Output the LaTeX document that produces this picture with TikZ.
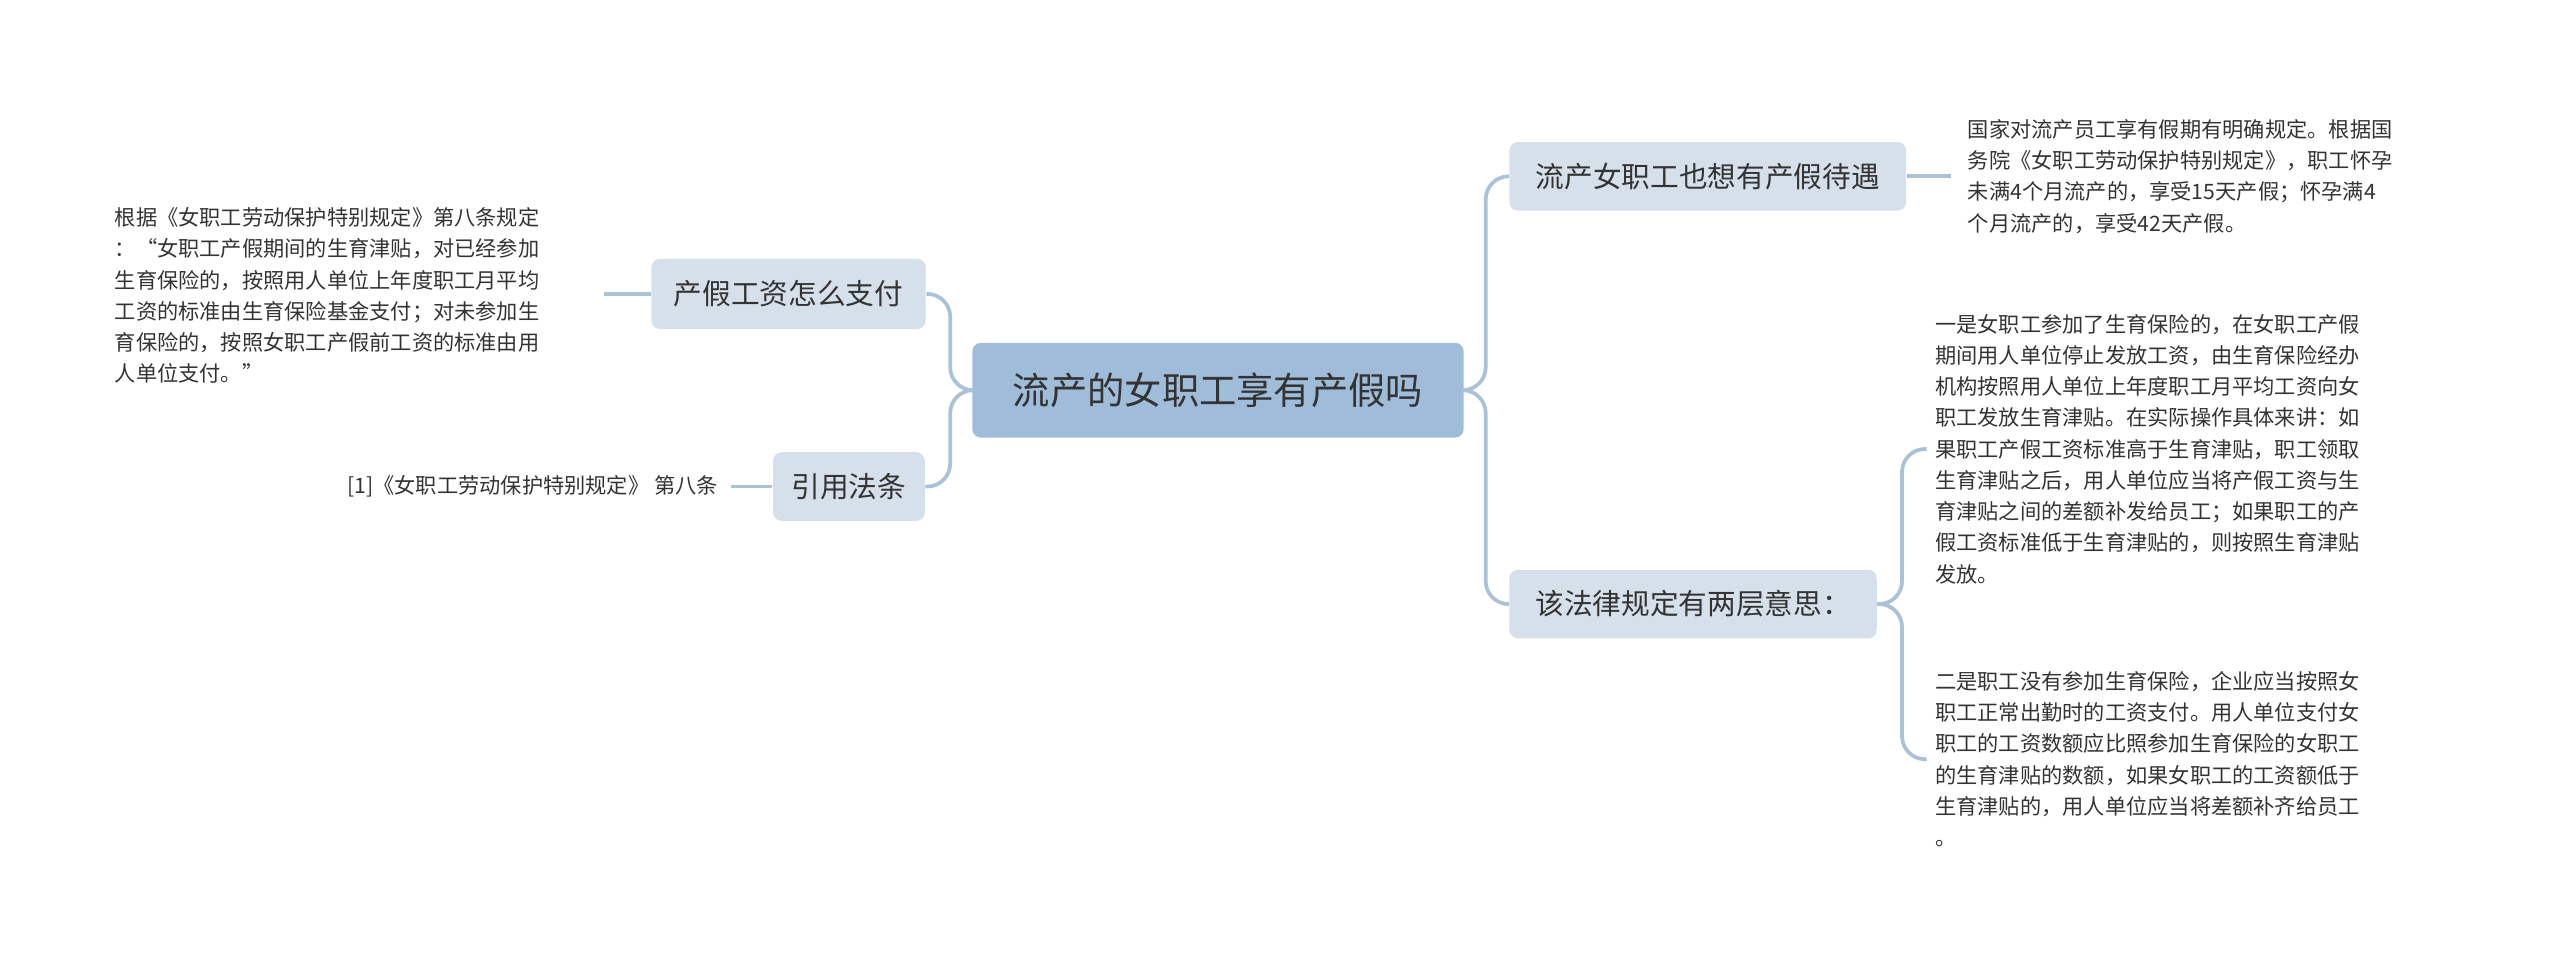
\documentclass[tikz,border=0pt]{standalone}
\usepackage{fontspec}
\setmainfont{Noto Sans CJK SC}
\begin{document}
\begin{tikzpicture}[x=0.02cm,y=-0.02cm,
  line/.style={draw=lineC,line width=1.3pt,rounded corners=8pt},
  sub/.style={fill=subC,rounded corners=3pt,text=txtC,font=\fontsize{10pt}{12pt}\selectfont,inner sep=0pt},
  leaf/.style={text=txtC,font=\fontsize{7.4pt}{10.9pt}\selectfont,align=left,inner sep=0pt,anchor=west}]
\definecolor{lineC}{HTML}{A9C2D8}
\definecolor{subC}{HTML}{D5E0EA}
\definecolor{mainC}{HTML}{9FBCD8}
\definecolor{txtC}{HTML}{333333}
\useasboundingbox (0,0) rectangle (1568,591);
\node[fill=mainC,rounded corners=3pt,minimum width=301*0.02cm,minimum height=58*0.02cm,text=txtC,font=\fontsize{13pt}{15pt}\selectfont] (c) at (746,239) {流产的女职工享有产假吗};
\node[sub,minimum width=168*0.02cm,minimum height=43*0.02cm] (a) at (483,180) {产假工资怎么支付};
\node[sub,minimum width=93*0.02cm,minimum height=42*0.02cm] (b) at (520,298) {引用法条};
\node[sub,minimum width=243*0.02cm,minimum height=42*0.02cm] (d) at (1046,108) {流产女职工也想有产假待遇};
\node[sub,minimum width=225*0.02cm,minimum height=42*0.02cm] (e) at (1037,370) {该法律规定有两层意思：};
\node[leaf] (la) at (70,181) {根据《女职工劳动保护特别规定》第八条规定\\：“女职工产假期间的生育津贴，对已经参加\\生育保险的，按照用人单位上年度职工月平均\\工资的标准由生育保险基金支付；对未参加生\\育保险的，按照女职工产假前工资的标准由用\\人单位支付。”};
\node[leaf,anchor=east] (lb) at (440,298) {[1]《女职工劳动保护特别规定》 第八条};
\node[leaf] (ld) at (1205,108) {国家对流产员工享有假期有明确规定。根据国\\务院《女职工劳动保护特别规定》，职工怀孕\\未满4个月流产的，享受15天产假；怀孕满4\\个月流产的，享受42天产假。};
\node[leaf] (le1) at (1185,275) {一是女职工参加了生育保险的，在女职工产假\\期间用人单位停止发放工资，由生育保险经办\\机构按照用人单位上年度职工月平均工资向女\\职工发放生育津贴。在实际操作具体来讲：如\\果职工产假工资标准高于生育津贴，职工领取\\生育津贴之后，用人单位应当将产假工资与生\\育津贴之间的差额补发给员工；如果职工的产\\假工资标准低于生育津贴的，则按照生育津贴\\发放。};
\node[leaf] (le2) at (1185,465) {二是职工没有参加生育保险，企业应当按照女\\职工正常出勤时的工资支付。用人单位支付女\\职工的工资数额应比照参加生育保险的女职工\\的生育津贴的数额，如果女职工的工资额低于\\生育津贴的，用人单位应当将差额补齐给员工\\。};
\path[line] (c.west) -- (582,239) |- (a.east);
\path[line] (c.west) -- (582,239) |- (b.east);
\path[line] (c.east) -- (910,239) |- (d.west);
\path[line] (c.east) -- (910,239) |- (e.west);
\draw[lineC,line width=1.3pt] (a.west) -- (370,180);
\draw[lineC,line width=1.3pt] (b.west) -- (448,298);
\draw[lineC,line width=1.3pt] (d.east) -- (1195,108);
\path[line] (e.east) -- (1165,370) |- (1180,275);
\path[line] (e.east) -- (1165,370) |- (1180,465);
\end{tikzpicture}
\end{document}
